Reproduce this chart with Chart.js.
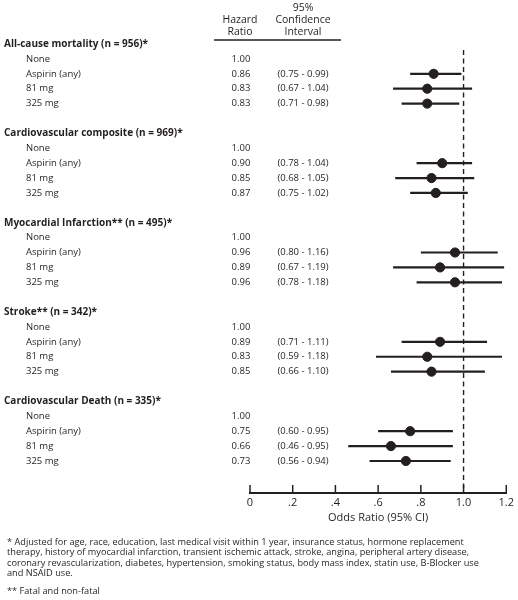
<!DOCTYPE html>
<html>
<head>
<meta charset="utf-8">
<script src="https://cdn.jsdelivr.net/npm/chart.js@4.4.0/dist/chart.umd.min.js"></script>
<style>
  html, body { margin: 0; padding: 0; background: #fff; }
  #wrap { width: 518px; height: 600px; }
</style>
</head>
<body>
<div id="wrap"><canvas id="forestChart" width="518" height="600"></canvas></div>
<script>
// --- DATA ---
const outcomes = [
    'All-cause mortality (n = 956)*',
    'Cardiovascular composite (n = 969)*',
    'Myocardial Infarction** (n = 495)*',
    'Stroke** (n = 342)*',
    'Cardiovascular Death (n = 335)*'
];
const doses = ['None', 'Aspirin (any)', '81 mg', '325 mg'];

// hazard ratios per outcome, in dose order
const hrAllCause = [1.00, 0.86, 0.83, 0.83];
const hrCvComposite = [1.00, 0.90, 0.85, 0.87];
const hrMI = [1.00, 0.96, 0.89, 0.96];
const hrStroke = [1.00, 0.89, 0.83, 0.85];
const hrCvDeath = [1.00, 0.75, 0.66, 0.73];

// 95% CI bounds (None = reference, no interval)
const ciLowAllCause = [null, 0.75, 0.67, 0.71];
const ciHighAllCause = [null, 0.99, 1.04, 0.98];
const ciLowCvComposite = [null, 0.78, 0.68, 0.75];
const ciHighCvComposite = [null, 1.04, 1.05, 1.02];
const ciLowMI = [null, 0.80, 0.67, 0.78];
const ciHighMI = [null, 1.16, 1.19, 1.18];
const ciLowStroke = [null, 0.71, 0.59, 0.66];
const ciHighStroke = [null, 1.11, 1.18, 1.10];
const ciLowCvDeath = [null, 0.60, 0.46, 0.56];
const ciHighCvDeath = [null, 0.95, 0.95, 0.94];

const xTicks = [0, 0.2, 0.4, 0.6, 0.8, 1.0, 1.2];
const xTickLabels = ['0', '.2', '.4', '.6', '.8', '1.0', '1.2'];

const footnotes = [
    '* Adjusted for age, race, education, last medical visit within 1 year, insurance status, hormone replacement',
    'therapy, history of myocardial infarction, transient ischemic attack, stroke, angina, peripheral artery disease,',
    'coronary revascularization, diabetes, hypertension, smoking status, body mass index, statin use, B-Blocker use',
    'and NSAID use.'
];
const footnote2 = '** Fatal and non-fatal';

const hrAll = [hrAllCause, hrCvComposite, hrMI, hrStroke, hrCvDeath];
const ciLowAll = [ciLowAllCause, ciLowCvComposite, ciLowMI, ciLowStroke, ciLowCvDeath];
const ciHighAll = [ciHighAllCause, ciHighCvComposite, ciHighMI, ciHighStroke, ciHighCvDeath];

// each outcome block: header row + 4 dose rows + 1 blank row
const ROWS_PER_GROUP = 6;
const rowIndex = (g, d) => g * ROWS_PER_GROUP + 1 + d;

const FONT = '"Open Sans", "DejaVu Sans", sans-serif';
const INK = '#231f20';

// --- BUILD DATASETS ---
const points = [];
const ciDatasets = [];
hrAll.forEach((hrs, g) => {
    hrs.forEach((hr, d) => {
        const lo = ciLowAll[g][d];
        const hi = ciHighAll[g][d];
        if (lo === null) return;
        points.push({ x: hr, y: rowIndex(g, d) });
        ciDatasets.push({
            type: 'line',
            data: [{ x: lo, y: rowIndex(g, d) }, { x: hi, y: rowIndex(g, d) }],
            borderColor: INK,
            borderWidth: 2.2,
            pointRadius: 0,
            order: 2
        });
    });
});

const lastRow = rowIndex(outcomes.length - 1, doses.length - 1);
const yMin = 0.4;
const yMax = lastRow + 2.15;

// --- TABLE TEXT + AXIS TICKS PLUGIN ---
const forestText = {
    id: 'forestText',
    afterDraw(chart) {
        const c = chart.ctx;
        const y = chart.scales.y;
        const x = chart.scales.x;
        const area = chart.chartArea;
        c.save();
        c.fillStyle = INK;
        c.textBaseline = 'middle';

        // column headers
        c.font = `10.5px ${FONT}`;
        c.textAlign = 'center';
        c.fillText('95%', 303, 8);
        c.fillText('Hazard', 240, 20);
        c.fillText('Confidence', 303, 20);
        c.fillText('Ratio', 240, 32);
        c.fillText('Interval', 303, 32);
        c.strokeStyle = INK;
        c.lineWidth = 1.6;
        c.beginPath();
        c.moveTo(214, 40);
        c.lineTo(341, 40);
        c.stroke();

        outcomes.forEach((name, g) => {
            const hy = y.getPixelForValue(g * ROWS_PER_GROUP);
            c.textAlign = 'left';
            c.font = `bold 10px ${FONT}`;
            c.fillText(name, 4, hy);
            c.font = `9.5px ${FONT}`;
            doses.forEach((dose, d) => {
                const ry = y.getPixelForValue(rowIndex(g, d));
                c.textAlign = 'left';
                c.fillText(dose, 26, ry);
                c.textAlign = 'center';
                c.fillText(hrAll[g][d].toFixed(2), 241, ry);
                if (ciLowAll[g][d] !== null) {
                    c.fillText(`(${ciLowAll[g][d].toFixed(2)} - ${ciHighAll[g][d].toFixed(2)})`, 303, ry);
                }
            });
        });

        // tick marks pointing up from the axis line
        c.lineWidth = 1.5;
        xTicks.forEach(v => {
            const px = x.getPixelForValue(v);
            c.beginPath();
            c.moveTo(px, area.bottom);
            c.lineTo(px, area.bottom - 8);
            c.stroke();
        });

        // footnotes
        c.textAlign = 'left';
        c.font = `9.2px ${FONT}`;
        footnotes.forEach((line, i) => c.fillText(line, 7, 542 + i * 10.5));
        c.fillText(footnote2, 7, 591);
        c.restore();
    }
};

const ctx = document.getElementById('forestChart').getContext('2d');
const forestChart = new Chart(ctx, {
    type: 'scatter',
    data: {
        datasets: [
            {
                data: points,
                backgroundColor: INK,
                borderColor: INK,
                pointRadius: 4.6,
                pointHoverRadius: 4.6,
                order: 1
            },
            ...ciDatasets,
            {
                // reference line at 1.0
                type: 'line',
                data: [{ x: 1.0, y: yMin }, { x: 1.0, y: yMax }],
                borderColor: INK,
                borderWidth: 1.4,
                borderDash: [5, 3.5],
                pointRadius: 0,
                order: 3
            }
        ]
    },
    options: {
        responsive: false,
        animation: false,
        events: [],
        layout: { padding: { left: 250, right: 10, top: 50, bottom: 77 } },
        plugins: { legend: { display: false }, tooltip: { enabled: false } },
        scales: {
            x: {
                type: 'linear',
                min: 0,
                max: 1.2,
                afterBuildTicks: scale => { scale.ticks = xTicks.map(v => ({ value: v })); },
                afterFit: scale => { scale.height = 30; },
                grid: { display: false, drawTicks: false },
                border: { display: true, color: INK, width: 2 },
                ticks: {
                    color: INK,
                    padding: 4,
                    maxRotation: 0,
                    autoSkip: false,
                    font: { family: FONT, size: 11, lineHeight: 1 },
                    callback: (v, i) => xTickLabels[i]
                },
                title: {
                    display: true,
                    text: 'Odds Ratio (95% CI)',
                    color: INK,
                    padding: { top: 3, bottom: 0 },
                    font: { family: FONT, size: 11, lineHeight: 1 }
                }
            },
            y: {
                type: 'linear',
                display: false,
                reverse: true,
                min: yMin,
                max: yMax
            }
        }
    },
    plugins: [forestText]
});
</script>
</body>
</html>
